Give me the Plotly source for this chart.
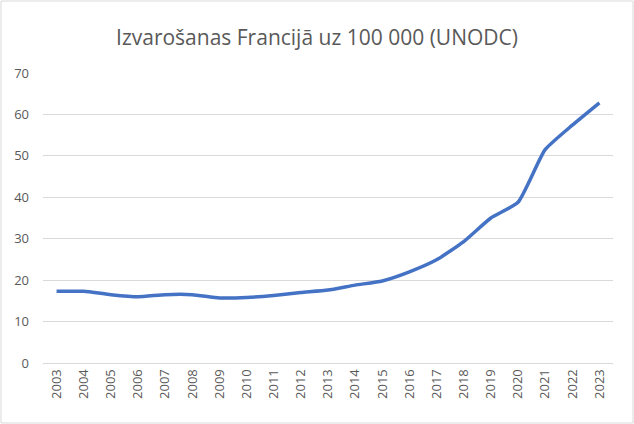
import plotly.graph_objects as go

# gadi un izvarošanas uz 100 000 iedzīvotāju (UNODC)
gadi = [str(g) for g in range(2003, 2024)]
vertibas = [17.3, 17.3, 16.5, 16.0, 16.5, 16.5, 15.7, 15.8, 16.3, 17.0, 17.6,
            18.8, 19.8, 22.0, 24.9, 29.3, 35.0, 38.8, 51.5, 57.4, 62.8]
y_ticks = [0, 10, 20, 30, 40, 50, 60, 70]

W, H = 634, 424
L, R, T, B = 43, 21, 73, 61
pw = W - L - R
ph = H - T - B

fig = go.Figure(
    data=[
        go.Scatter(x=gadi, y=vertibas, mode='lines',
                   line=dict(color='#4472C4', width=3.5, shape='spline', smoothing=0.5),
                   hoverinfo='x+y')
    ],
    layout=go.Layout(
        title=dict(text='Izvarošanas Francijā uz 100 000 (UNODC)',
                   x=0.5, xanchor='center', y=1 - 38 / H, yanchor='middle',
                   font=dict(family='Open Sans', size=21, color='#595959')),
        width=W, height=H,
        margin=dict(l=L, r=R, t=T, b=B),
        paper_bgcolor='white', plot_bgcolor='white',
        showlegend=False,
    )
)

fig.update_xaxes(type='category', range=[-0.5, len(gadi) - 0.5],
                 tickangle=-90, showgrid=False, ticks='',
                 showline=True, linecolor='#d9d9d9', linewidth=1,
                 tickfont=dict(family='Open Sans', size=13, color='#595959'))
fig.update_yaxes(range=[0, 70], tickvals=y_ticks, showgrid=True,
                 gridcolor='#d9d9d9', gridwidth=1, zeroline=False,
                 showline=False, ticks='', ticklabelstandoff=13,
                 tickfont=dict(family='Open Sans', size=13, color='#595959'))

# ramis ap visu attēlu
fig.add_shape(type='rect', xref='paper', yref='paper',
              x0=-(L - 1) / pw, x1=1 + (R - 1) / pw,
              y0=-(B - 1) / ph, y1=1 + (T - 1) / ph,
              line=dict(color='#d9d9d9', width=1), layer='below')

fig.write_html("out.html", config={'displayModeBar': False},
               post_script="document.body.style.margin='0';")
